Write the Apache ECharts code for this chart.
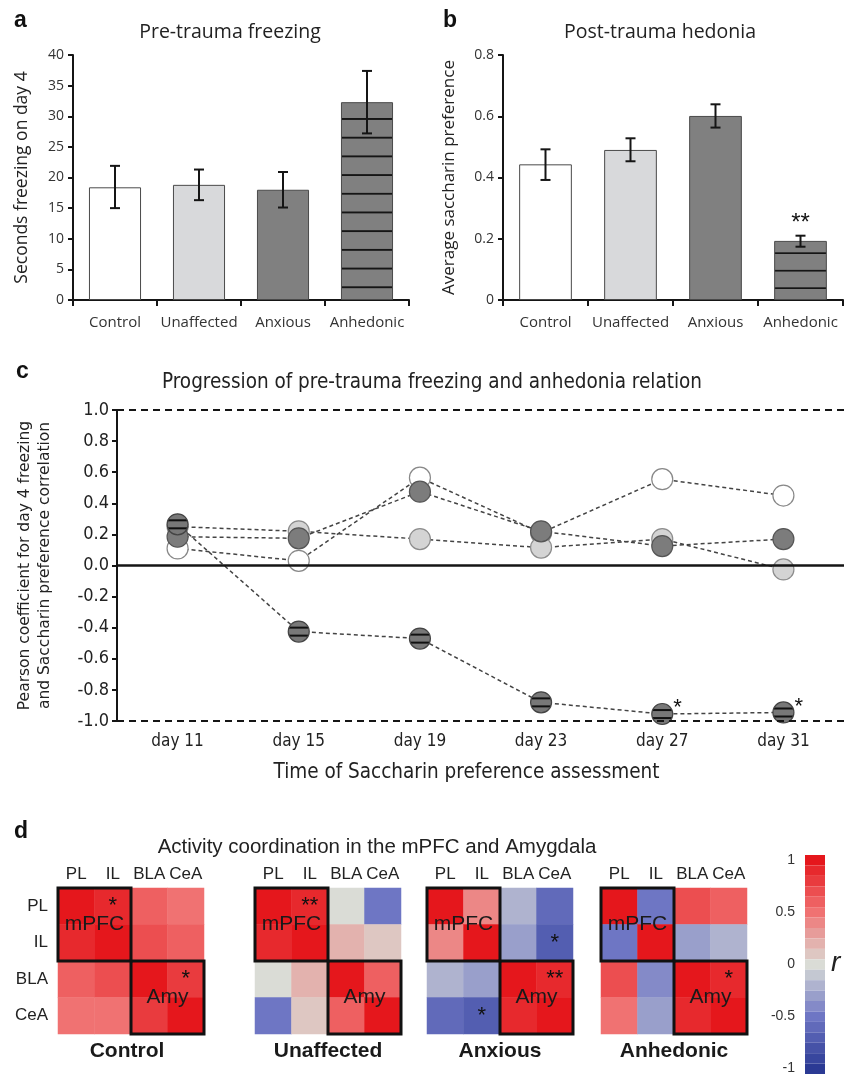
<!DOCTYPE html>
<html>
<head>
<meta charset="utf-8">
<script src="https://cdn.jsdelivr.net/npm/echarts@6/dist/echarts.min.js"></script>
<style>
  html, body { margin: 0; padding: 0; background: #fff; }
  #chart { width: 844px; height: 1077px; }
</style>
</head>
<body>
<div id="chart"></div>
<script>
// groups shared by a, b, d
const groups = ['Control', 'Unaffected', 'Anxious', 'Anhedonic'];

// a - pre-trauma freezing (seconds on day 4), mean and error bar ends
const freezeMean = [18.4, 18.8, 18.0, 32.3];
const freezeLow = [15.0, 16.3, 15.1, 27.2];
const freezeHigh = [21.9, 21.3, 20.9, 37.4];

// b - average saccharin preference
const hedoniaMean = [0.443, 0.49, 0.601, 0.193];
const hedoniaLow = [0.392, 0.453, 0.563, 0.174];
const hedoniaHigh = [0.492, 0.528, 0.639, 0.21];
const hedoniaSig = ['', '', '', '**'];

// c - pearson r per assessment day
const days = ['day 11', 'day 15', 'day 19', 'day 23', 'day 27', 'day 31'];
const controlCorr = [0.11, 0.03, 0.565, 0.21, 0.555, 0.45];
const unaffectedCorr = [0.25, 0.22, 0.17, 0.115, 0.17, -0.025];
const anxiousCorr = [0.185, 0.175, 0.475, 0.22, 0.125, 0.17];
const anhedonicCorr = [0.265, -0.425, -0.47, -0.88, -0.955, -0.945];
const anhedonicSig = ['', '', '', '', '*', '*'];

// d - correlation matrices (rows / cols: PL, IL, BLA, CeA)
const regions = ['PL', 'IL', 'BLA', 'CeA'];
const controlR = [
  [1, 0.85, 0.55, 0.5],
  [0.85, 1, 0.65, 0.55],
  [0.55, 0.65, 1, 0.8],
  [0.5, 0.5, 0.75, 1]
];
const unaffectedR = [
  [1, 0.85, 0.0, -0.55],
  [0.85, 1, 0.15, 0.1],
  [0.0, 0.15, 1, 0.6],
  [-0.55, 0.1, 0.6, 1]
];
const anxiousR = [
  [1, 0.35, -0.25, -0.65],
  [0.35, 1, -0.3, -0.7],
  [-0.25, -0.3, 1, 0.9],
  [-0.65, -0.7, 0.9, 1]
];
const anhedonicR = [
  [1, -0.55, 0.7, 0.55],
  [-0.55, 1, -0.35, -0.25],
  [0.65, -0.4, 1, 0.9],
  [0.5, -0.3, 0.9, 1]
];
const controlSig = [['', '*', '', ''], ['', '', '', ''], ['', '', '', '*'], ['', '', '', '']];
const unaffectedSig = [['', '**', '', ''], ['', '', '', ''], ['', '', '', ''], ['', '', '', '']];
const anxiousSig = [['', '', '', ''], ['', '', '', '*'], ['', '', '', '**'], ['', '*', '', '']];
const anhedonicSig2 = [['', '', '', ''], ['', '', '', ''], ['', '', '', '*'], ['', '', '', '']];
const boxNames = ['mPFC', 'Amy'];
const boxRanges = [[0, 1], [2, 3]];

const sans = "'Open Sans', 'Noto Sans', sans-serif";
const narrow = "'Liberation Sans Narrow', 'DejaVu Sans Condensed', sans-serif";
const arial = "'Liberation Sans', Arial, sans-serif";

function stripeImage(h, lineH, bg) {
  const c = document.createElement('canvas');
  c.width = 4; c.height = h;
  const g = c.getContext('2d');
  g.fillStyle = bg; g.fillRect(0, 0, 4, h);
  g.fillStyle = '#151515'; g.fillRect(0, 0, 4, lineH);
  return c;
}
// striped fills (anhedonic group)
const stripeA = { image: stripeImage(20, 2, '#808080'), repeat: 'repeat', y: 286.3, scaleY: 18.7 / 20 };
const stripeB = { image: stripeImage(20, 2, '#808080'), repeat: 'repeat', y: 287.3, scaleY: 17.5 / 20 };
const dotImg = document.createElement('canvas');
dotImg.width = 4; dotImg.height = 8;
(function () {
  const g = dotImg.getContext('2d');
  g.fillStyle = '#787878'; g.fillRect(0, 0, 4, 8);
  g.fillStyle = '#111'; g.fillRect(0, 3, 4, 2);
})();
const dotStripe = { image: dotImg, repeat: 'repeat', scaleX: 2 / 21, scaleY: 2 / 21 };

const barFills = ['#ffffff', '#d8d9db', '#808080'];

function barData(vals, striped, sig) {
  return vals.map((v, i) => {
    const item = {
      value: v,
      itemStyle: { color: i === 3 ? striped : barFills[i], borderColor: '#4a4a4a', borderWidth: 1 }
    };
    if (sig && sig[i]) {
      item.label = { show: true, formatter: sig[i], position: 'top', distance: 6,
        fontSize: 24, fontFamily: arial, color: '#111' };
    }
    return item;
  });
}

function errData(lo, hi) {
  return lo.map((v, i) => [i, v, hi[i]]);
}

function errRender(params, api) {
  const i = api.value(0);
  const lo = api.coord([i, api.value(1)]);
  const hi = api.coord([i, api.value(2)]);
  const w = 5;
  const st = { stroke: '#151515', lineWidth: 2 };
  return {
    type: 'group',
    children: [
      { type: 'line', shape: { x1: lo[0], y1: lo[1], x2: hi[0], y2: hi[1] }, style: st },
      { type: 'line', shape: { x1: lo[0] - w, y1: lo[1], x2: lo[0] + w, y2: lo[1] }, style: st },
      { type: 'line', shape: { x1: hi[0] - w, y1: hi[1], x2: hi[0] + w, y2: hi[1] }, style: st }
    ]
  };
}

function cells(m) {
  const out = [];
  m.forEach((row, yi) => row.forEach((v, xi) => out.push([xi, yi, v])));
  return out;
}

function boxRender(params, api) {
  const a = api.coord([api.value(0), api.value(0)]);
  const b = api.coord([api.value(1), api.value(1)]);
  const s = api.size([1, 1]);
  const x = Math.min(a[0], b[0]) - s[0] / 2;
  const y = Math.min(a[1], b[1]) - s[1] / 2;
  const w = Math.abs(b[0] - a[0]) + s[0];
  const h = Math.abs(b[1] - a[1]) + s[1];
  return {
    type: 'group',
    children: [
      { type: 'rect', shape: { x: x, y: y, width: w, height: h },
        style: { fill: 'none', stroke: '#111', lineWidth: 3 } },
      { type: 'text', x: x + w / 2, y: y + h / 2,
        style: { text: boxNames[params.dataIndex], align: 'center', verticalAlign: 'middle',
          font: '21px ' + arial, fill: '#1a1a1a' } }
    ]
  };
}

const chart = echarts.init(document.getElementById('chart'));

const letter = { fontSize: 23, fontWeight: 'bold', fontFamily: arial, color: '#111' };
const titles = [
  { text: 'a', left: 14, top: 9, textStyle: letter },
  { text: 'b', left: 443, top: 9, textStyle: letter },
  { text: 'c', left: 16, top: 360, textStyle: letter },
  { text: 'd', left: 14, top: 820, textStyle: letter },
  { text: 'Pre-trauma freezing', left: 230, top: 22, textAlign: 'center',
    textStyle: { fontSize: 19.5, fontWeight: 'normal', fontFamily: sans, color: '#222' } },
  { text: 'Post-trauma hedonia', left: 660, top: 22, textAlign: 'center',
    textStyle: { fontSize: 19.5, fontWeight: 'normal', fontFamily: sans, color: '#222' } },
  { text: 'Progression of pre-trauma freezing and anhedonia relation', left: 432, top: 372, textAlign: 'center',
    textStyle: { fontSize: 20.5, fontWeight: 'normal', fontFamily: narrow, color: '#222' } },
  { text: 'Activity coordination in the mPFC and Amygdala', left: 377, top: 837, textAlign: 'center',
    textStyle: { fontSize: 20.5, fontWeight: 'normal', fontFamily: arial, color: '#222' } },
  { text: 'r', left: 831, top: 949, textStyle: { fontSize: 28, fontStyle: 'italic', fontWeight: 'normal', fontFamily: arial, color: '#222' } }
].map(t => Object.assign({ padding: 0 }, t));

const hmLefts = [58, 255, 427, 601];
const hmCenters = [127, 328, 500, 674];
groups.forEach((g, i) => {
  titles.push({ text: g, left: hmCenters[i], top: 1041, textAlign: 'center', padding: 0,
    textStyle: { fontSize: 21, fontWeight: 'bold', fontFamily: arial, color: '#1a1a1a' } });
});

const grids = [
  { left: 73, top: 55, width: 336, height: 245 },
  { left: 503, top: 55, width: 340, height: 245 },
  { left: 117, top: 410, width: 727, height: 311 }
];
hmLefts.forEach(l => grids.push({ left: l, top: 888, width: 146, height: 146 }));
grids.push({ left: 805, top: 860, width: 20, height: 208 });

const barXAxis = (gi) => ({
  type: 'category', gridIndex: gi, data: groups,
  axisLine: { lineStyle: { color: '#151515', width: 2 } },
  axisTick: { show: true, length: 6, lineStyle: { color: '#151515', width: 2 } },
  axisLabel: { interval: 0, fontSize: 15, fontFamily: sans, color: '#333', margin: 15 }
});

const xAxes = [
  barXAxis(0),
  barXAxis(1),
  {
    type: 'category', gridIndex: 2, data: days,
    axisLine: { show: false }, axisTick: { show: false },
    axisLabel: { interval: 0, fontSize: 17, fontFamily: narrow, color: '#222', margin: 12 },
    name: 'Time of Saccharin preference assessment', nameLocation: 'middle', nameGap: 41,
    nameTextStyle: { fontSize: 20.5, fontFamily: narrow, color: '#222', padding: [0, 28, 0, 0] }
  }
];
hmLefts.forEach((l, i) => xAxes.push({
  type: 'category', gridIndex: 3 + i, data: regions, position: 'top',
  axisLine: { show: false }, axisTick: { show: false }, splitLine: { show: false },
  axisLabel: { interval: 0, fontSize: 17, fontFamily: arial, color: '#222', margin: 5 }
}));
xAxes.push({ type: 'value', gridIndex: 7, show: false, min: 0, max: 1 });

const yAxes = [
  {
    type: 'value', gridIndex: 0, min: 0, max: 40, interval: 5,
    axisLine: { show: true, lineStyle: { color: '#151515', width: 2 } },
    axisTick: { show: true, length: 5, lineStyle: { color: '#151515', width: 2 } },
    splitLine: { show: false },
    axisLabel: { fontSize: 14, fontFamily: sans, color: '#333', margin: 9 },
    name: 'Seconds freezing on day 4', nameLocation: 'middle', nameGap: 42,
    nameTextStyle: { fontSize: 17.5, fontFamily: sans, color: '#222' }
  },
  {
    type: 'value', gridIndex: 1, min: 0, max: 0.8, interval: 0.2,
    axisLine: { show: true, lineStyle: { color: '#151515', width: 2 } },
    axisTick: { show: true, length: 5, lineStyle: { color: '#151515', width: 2 } },
    splitLine: { show: false },
    axisLabel: { fontSize: 14, fontFamily: sans, color: '#333', margin: 9 },
    name: 'Average saccharin preference', nameLocation: 'middle', nameGap: 45,
    nameTextStyle: { fontSize: 17, fontFamily: sans, color: '#222' }
  },
  {
    type: 'value', gridIndex: 2, min: -1, max: 1, interval: 0.2,
    axisLine: { show: true, lineStyle: { color: '#151515', width: 2 } },
    axisTick: { show: true, length: 5, lineStyle: { color: '#151515', width: 2 } },
    splitLine: { show: false },
    axisLabel: { fontSize: 18, fontFamily: narrow, color: '#222', margin: 8,
      formatter: v => v.toFixed(1) },
    name: 'Pearson coefficient for day 4 freezing\nand Saccharin preference correlation',
    nameLocation: 'middle', nameGap: 62,
    nameTextStyle: { fontSize: 15.5, lineHeight: 20, fontFamily: "'DejaVu Sans', sans-serif", color: '#222' }
  }
];
hmLefts.forEach((l, i) => yAxes.push({
  type: 'category', gridIndex: 3 + i, data: regions, inverse: true,
  axisLine: { show: false }, axisTick: { show: false }, splitLine: { show: false },
  axisLabel: { show: i === 0, interval: 0, fontSize: 17, fontFamily: arial, color: '#222', margin: 10 }
}));
yAxes.push({
  type: 'value', gridIndex: 7, min: -1, max: 1, interval: 0.5,
  axisLine: { show: false }, axisTick: { show: false }, splitLine: { show: false },
  axisLabel: { fontSize: 14, fontFamily: arial, color: '#333', margin: 10 }
});

function corrSeries(name, data, fill, border) {
  return {
    type: 'line', name: name, xAxisIndex: 2, yAxisIndex: 2, data: data,
    symbol: 'circle', symbolSize: 21, z: 3,
    lineStyle: { color: '#444', width: 1.5, type: [4, 3] },
    itemStyle: { color: fill, borderColor: border, borderWidth: 1.2 }
  };
}

const dashed = { color: '#151515', width: 2, type: [7, 5] };

const series = [
  // a
  { type: 'bar', xAxisIndex: 0, yAxisIndex: 0, barWidth: '62%', data: barData(freezeMean, stripeA) },
  { type: 'custom', xAxisIndex: 0, yAxisIndex: 0, z: 5, renderItem: errRender, data: errData(freezeLow, freezeHigh) },
  // b
  { type: 'bar', xAxisIndex: 1, yAxisIndex: 1, barWidth: '62%', data: barData(hedoniaMean, stripeB, hedoniaSig) },
  { type: 'custom', xAxisIndex: 1, yAxisIndex: 1, z: 5, renderItem: errRender, data: errData(hedoniaLow, hedoniaHigh) },
  // c reference lines
  {
    type: 'line', xAxisIndex: 2, yAxisIndex: 2, data: [], z: 1,
    markLine: {
      silent: true, symbol: 'none', label: { show: false },
      data: [
        { yAxis: 1, lineStyle: dashed },
        { yAxis: 0, lineStyle: { color: '#151515', width: 2.5, type: 'solid' } },
        { yAxis: -1, lineStyle: dashed }
      ]
    }
  },
  corrSeries('Control', controlCorr, '#ffffff', '#888'),
  corrSeries('Unaffected', unaffectedCorr, '#d4d4d4', '#8c8c8c'),
  corrSeries('Anxious', anxiousCorr, '#7c7c7c', '#555'),
  corrSeries('Anhedonic', anhedonicCorr.map((v, i) => anhedonicSig[i] ? {
    value: v,
    label: { show: true, formatter: anhedonicSig[i], position: 'right', distance: 0, offset: [0, -6],
      fontSize: 22, fontFamily: arial, color: '#111' }
  } : v), dotStripe, '#444')
];

const sigs = [controlSig, unaffectedSig, anxiousSig, anhedonicSig2];
[controlR, unaffectedR, anxiousR, anhedonicR].forEach((m, i) => {
  series.push({
    type: 'heatmap', xAxisIndex: 3 + i, yAxisIndex: 3 + i, data: cells(m),
    label: { show: true, fontSize: 22, fontFamily: arial, color: '#111',
      formatter: p => sigs[i][p.value[1]][p.value[0]] },
    emphasis: { disabled: true }
  });
});
const heatIdx = [9, 10, 11, 12];
[0, 1, 2, 3].forEach(i => {
  series.push({ type: 'custom', xAxisIndex: 3 + i, yAxisIndex: 3 + i, z: 6,
    renderItem: boxRender, data: boxRanges });
});
series.push({ type: 'scatter', xAxisIndex: 7, yAxisIndex: 7, data: [] });

chart.setOption({
  animation: false,
  backgroundColor: '#fff',
  title: titles,
  grid: grids,
  xAxis: xAxes,
  yAxis: yAxes,
  visualMap: {
    type: 'piecewise', seriesIndex: heatIdx, min: -1.05, max: 1.05, splitNumber: 21,
    left: 805, top: 855, itemWidth: 20, itemHeight: 10.43, itemGap: 0, padding: 0,
    itemSymbol: 'rect', showLabel: false, selectedMode: false, hoverLink: false,
    inRange: { color: ['#2b3a94', '#6e76c4', '#dadcd6', '#f07272', '#e5171c'] }
  },
  series: series
});
</script>
</body>
</html>
